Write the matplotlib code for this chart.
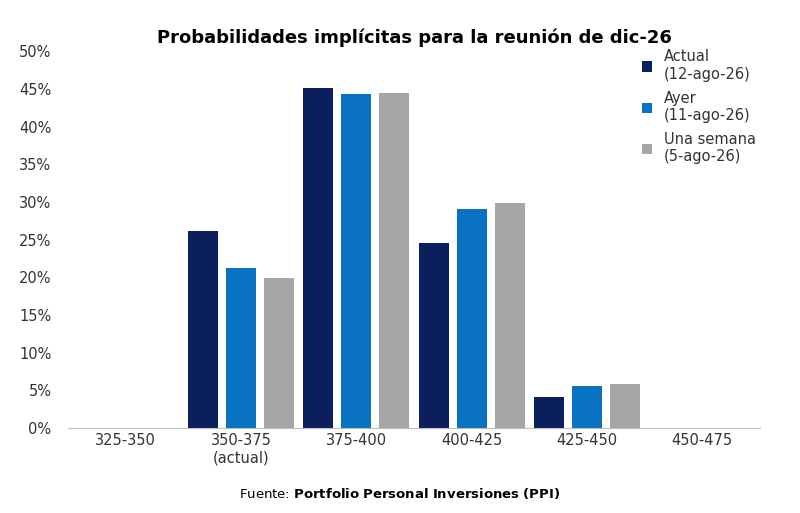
import numpy as np
import matplotlib.pyplot as plt

#Data
def extract():
    return {
        'Rangos': ['325-350', '350-375\n(actual)', '375-400', '400-425', '425-450', '450-475'],
        'Actual\n(12-ago-26)': [0, 26.2, 45.1, 24.6, 4.1, 0],
        'Ayer\n(11-ago-26)': [0, 21.2, 44.3, 29.0, 5.6, 0],
        'Una semana\n(5-ago-26)': [0, 19.9, 44.5, 29.8, 5.8, 0],
    }

#Plot
def load(data):
    colors = ['#0b1f5c', '#0a72c2', '#a6a6a6']
    series = [k for k in data if k != 'Rangos']
    x = np.arange(len(data['Rangos']))
    width = 0.26

    plt.figure(figsize=(8, 5.13), dpi=100)
    for i, name in enumerate(series):
        plt.bar(x + (i - 1) * 0.33, data[name], width, color=colors[i], label=name)
    plt.title('Probabilidades implícitas para la reunión de dic-26', fontweight='bold', fontsize=13)
    plt.xticks(x, data['Rangos'], fontsize=10.5, color='#333333')
    plt.yticks(np.arange(0, 51, 5), [f'{v}%' for v in range(0, 51, 5)], fontsize=10.5, color='#333333')
    plt.ylim(0, 50)
    plt.xlim(-0.5, 5.5)
    ax = plt.gca()
    for side in ['top', 'right', 'left']:
        ax.spines[side].set_visible(False)
    ax.spines['bottom'].set_color('#bfbfbf')
    ax.tick_params(length=0)
    ax.tick_params(axis='y', pad=12)
    plt.legend(loc='upper left', bbox_to_anchor=(0.81, 1.04), frameon=False, fontsize=10.5,
               handlelength=0.7, handleheight=0.7, labelspacing=0.6, labelcolor='#333333')
    plt.figtext(0.5, 0.03, 'Fuente: $\\bf{Portfolio\\ Personal\\ Inversiones\\ (PPI)}$',
                ha='center', fontsize=9.5)
    plt.subplots_adjust(left=0.085, right=0.95, top=0.9, bottom=0.166)
    plt.savefig('out.png')

if __name__ == "__main__":
    load(extract())
